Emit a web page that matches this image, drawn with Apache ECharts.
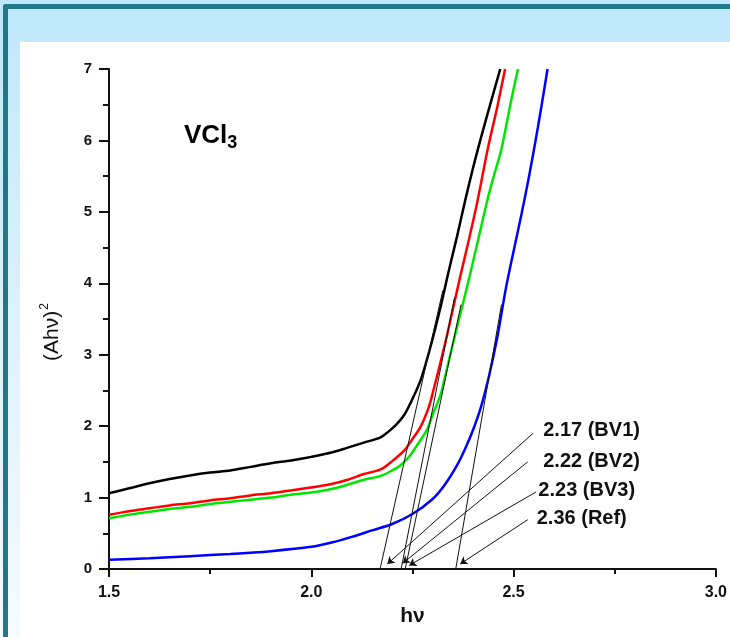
<!DOCTYPE html>
<html>
<head>
<meta charset="utf-8">
<script src="https://cdn.jsdelivr.net/npm/echarts@6/dist/echarts.min.js"></script>
<style>
html,body{margin:0;padding:0;background:#fff;overflow:hidden;}
#chart{width:730px;height:637px;}
</style>
</head>
<body>
<div id="chart"></div>
<script>
// ---- data ----
const xTicks = [1.5, 2.0, 2.5, 3.0];
const yTicks = [0, 1, 2, 3, 4, 5, 6, 7];

const bv1Curve = [[1.50,1.06],[1.55,1.13],[1.60,1.20],[1.65,1.26],[1.70,1.31],[1.75,1.35],[1.80,1.38],[1.85,1.43],[1.90,1.48],[1.95,1.52],[2.00,1.57],[2.05,1.63],[2.09,1.70],[2.13,1.77],[2.17,1.84],[2.19,1.92],[2.21,2.02],[2.23,2.16],[2.245,2.32],[2.27,2.64],[2.295,3.12],[2.32,3.68],[2.34,4.18],[2.36,4.65],[2.38,5.15],[2.40,5.62],[2.42,6.05],[2.445,6.56],[2.467,7.00]];
const bv2Curve = [[1.50,0.76],[1.55,0.81],[1.60,0.85],[1.65,0.89],[1.70,0.92],[1.75,0.96],[1.80,0.99],[1.85,1.03],[1.90,1.06],[1.95,1.10],[2.00,1.14],[2.05,1.19],[2.09,1.25],[2.13,1.33],[2.17,1.39],[2.20,1.51],[2.23,1.66],[2.25,1.82],[2.27,1.99],[2.29,2.26],[2.30,2.46],[2.33,3.14],[2.35,3.64],[2.37,4.14],[2.39,4.62],[2.41,5.13],[2.435,5.85],[2.46,6.48],[2.479,7.00]];
const bv3Curve = [[1.50,0.71],[1.55,0.76],[1.60,0.80],[1.65,0.84],[1.70,0.87],[1.75,0.91],[1.80,0.94],[1.85,0.97],[1.90,1.00],[1.95,1.04],[2.00,1.07],[2.05,1.12],[2.09,1.18],[2.13,1.25],[2.17,1.30],[2.20,1.38],[2.22,1.45],[2.24,1.56],[2.26,1.72],[2.285,1.94],[2.30,2.16],[2.32,2.45],[2.335,2.80],[2.36,3.38],[2.385,3.95],[2.41,4.55],[2.435,5.16],[2.45,5.48],[2.47,5.88],[2.494,6.56],[2.511,7.00]];
const refCurve = [[1.50,0.13],[1.60,0.15],[1.70,0.18],[1.80,0.21],[1.90,0.25],[2.00,0.31],[2.05,0.37],[2.10,0.45],[2.15,0.54],[2.20,0.63],[2.25,0.77],[2.30,0.98],[2.33,1.18],[2.36,1.45],[2.38,1.68],[2.40,1.95],[2.42,2.28],[2.44,2.72],[2.46,3.25],[2.48,3.90],[2.50,4.45],[2.52,4.98],[2.54,5.55],[2.56,6.18],[2.584,7.00]];

const gapValues = ['2.17 (BV1)', '2.22 (BV2)', '2.23 (BV3)', '2.36 (Ref)'];
const tangentFrom = [[2.170,0],[2.222,0],[2.232,0],[2.357,0]];
const tangentTo   = [[2.325,3.9],[2.354,3.8],[2.370,3.7],[2.470,3.7]];
const arrowFrom = [[2.548,1.90],[2.535,1.50],[2.556,1.08],[2.535,0.69]];
const arrowTo   = [[2.188,0.07],[2.226,0.08],[2.242,0.05],[2.368,0.07]];
const labelAt   = [[2.572,1.94],[2.572,1.50],[2.560,1.10],[2.556,0.71]];

const curveNames = ['BV1', 'BV2', 'BV3', 'Ref'];
const curveColors = ['#000000', '#ff0000', '#00e600', '#0000ff'];
const curves = [bv1Curve, bv2Curve, bv3Curve, refCurve];

// ---- chart ----
const chart = echarts.init(document.getElementById('chart'), null, {renderer: 'canvas'});
const FONT = '"Liberation Sans", Arial, sans-serif';

const series = curves.map((c, i) => ({
  name: curveNames[i], type: 'line', data: c, showSymbol: false,
  smooth: 0.3,
  lineStyle: {color: curveColors[i], width: 2.5}, itemStyle: {color: curveColors[i]},
  z: 3, silent: true
}));
series.push({
  type: 'lines', coordinateSystem: 'cartesian2d', z: 5, silent: true,
  symbol: 'none',
  lineStyle: {color: '#111', width: 1, opacity: 1},
  data: tangentFrom.map((p, i) => ({coords: [p, tangentTo[i]]}))
});
series.push({
  type: 'lines', coordinateSystem: 'cartesian2d', z: 5, silent: true,
  symbol: ['none', 'arrow'], symbolSize: 7,
  lineStyle: {color: '#111', width: 1, opacity: 1},
  data: arrowFrom.map((p, i) => ({coords: [p, arrowTo[i]]}))
});
series.push({
  type: 'scatter', z: 6, silent: true, symbolSize: 1,
  itemStyle: {color: 'transparent', opacity: 1},
  data: labelAt.map((p, i) => ({value: p, label: {formatter: gapValues[i]}})),
  label: {show: true, position: 'right', distance: 0, color: '#111', opacity: 1,
          fontFamily: FONT, fontWeight: 'bold', fontSize: 20}
});

chart.setOption({
  animation: false,
  backgroundColor: 'transparent',
  graphic: {elements: [
    {type: 'rect', z: -100, silent: true, shape: {x: 0, y: 0, width: 730, height: 637},
     style: {fill: new echarts.graphic.LinearGradient(0, 0, 0, 1, [
       {offset: 0, color: '#bee8fb'}, {offset: 0.45, color: '#d9f0fb'}, {offset: 1, color: '#f6fbfe'}])}},
    {type: 'rect', z: -99, silent: true, shape: {x: 20, y: 42, width: 710, height: 595}, style: {fill: '#ffffff'}},
    {type: 'rect', z: -98, silent: true, shape: {x: 3, y: 4, width: 727, height: 5, r: [3, 0, 0, 0]}, style: {fill: '#22788b'}},
    {type: 'rect', z: -98, silent: true, shape: {x: 3, y: 4, width: 5, height: 633, r: [3, 0, 0, 0]}, style: {fill: '#22788b'}}
  ]},
  title: {
    text: '{a|VCl}{b|3}', left: 179, top: 114,
    textStyle: {rich: {
      a: {fontFamily: FONT, fontWeight: 'bold', fontSize: 26, color: '#000', lineHeight: 34},
      b: {fontFamily: FONT, fontWeight: 'bold', fontSize: 18, color: '#000', lineHeight: 34, padding: [14, 0, 0, 0]}
    }}
  },
  grid: {left: 109, right: 9, top: 69, bottom: 68, containLabel: false},
  xAxis: {
    type: 'value', min: xTicks[0], max: xTicks[xTicks.length - 1], interval: 0.5,
    name: 'hν', nameLocation: 'middle', nameGap: 35,
    nameTextStyle: {fontFamily: FONT, fontWeight: 'bold', fontSize: 21, color: '#111'},
    axisLine: {lineStyle: {color: '#111', width: 2}},
    axisTick: {length: 8, lineStyle: {width: 2, color: '#111'}},
    minorTick: {show: true, splitNumber: 2, length: 5, lineStyle: {width: 2, color: '#111'}},
    splitLine: {show: false},
    axisLabel: {margin: 16, fontFamily: FONT, fontWeight: 'bold', fontSize: 16, color: '#111',
                formatter: v => v.toFixed(1)}
  },
  yAxis: {
    type: 'value', min: yTicks[0], max: yTicks[yTicks.length - 1], interval: 1,
    name: '(Ahν){sup|2}', nameLocation: 'middle', nameGap: 44,
    nameTextStyle: {fontFamily: FONT, fontWeight: 'normal', fontSize: 21, color: '#111',
                    padding: [0, 26, 0, 0],
                    rich: {sup: {fontFamily: FONT, fontSize: 12, color: '#111', verticalAlign: 'bottom', padding: [0, 0, 14, 1]}}},
    axisLine: {show: true, lineStyle: {color: '#111', width: 2}},
    axisTick: {show: true, length: 10, lineStyle: {width: 2, color: '#111'}},
    minorTick: {show: true, splitNumber: 2, length: 6, lineStyle: {width: 2, color: '#111'}},
    splitLine: {show: false},
    axisLabel: {margin: 17, fontFamily: FONT, fontWeight: 'bold', fontSize: 15, color: '#111'}
  },
  series: series
});
</script>
</body>
</html>
